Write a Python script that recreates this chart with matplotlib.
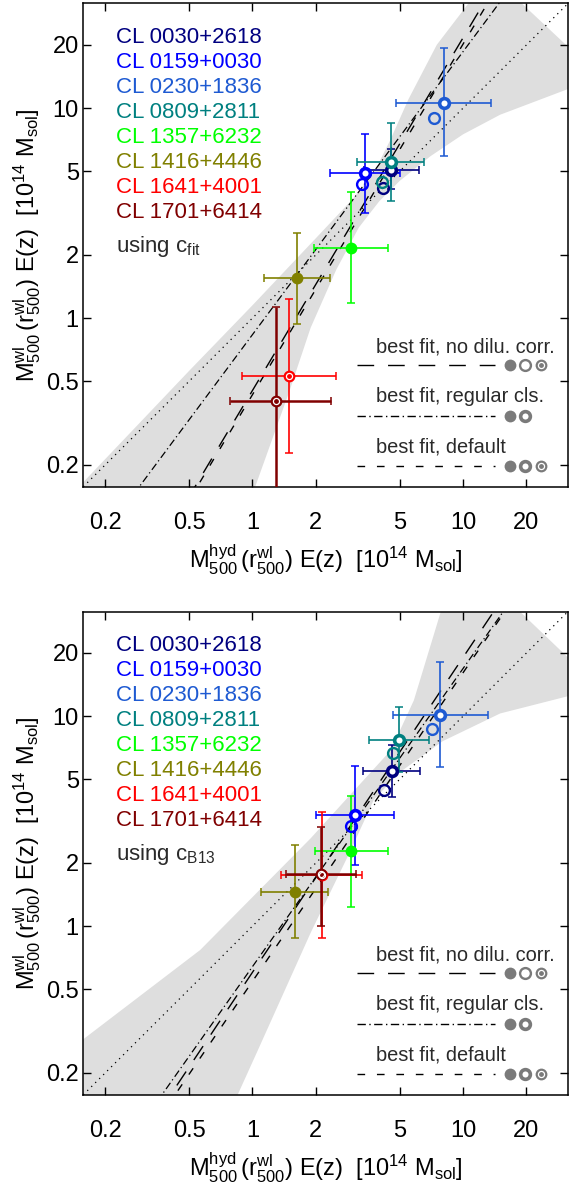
import numpy as np
import matplotlib
matplotlib.use('Agg')
from matplotlib import pyplot as plt

plt.rcParams['font.family'] = ['Liberation Sans', 'DejaVu Sans']
plt.rcParams['mathtext.fontset'] = 'custom'
plt.rcParams['mathtext.rm'] = 'Liberation Sans'
plt.rcParams['mathtext.it'] = 'Liberation Sans'
plt.rcParams['mathtext.bf'] = 'Liberation Sans'

# Clusters
CLUSTERS = ['CL 0030+2618', 'CL 0159+0030', 'CL 0230+1836', 'CL 0809+2811',
            'CL 1357+6232', 'CL 1416+4446', 'CL 1641+4001', 'CL 1701+6414']
COLORS = ['#000080', '#0000ff', '#1e5ad2', '#008080',
          '#00ff00', '#808000', '#ff0000', '#800000']
KIND = ['ring', 'ring', 'ring', 'ring', 'fill', 'fill', 'bull', 'bull']

# Top panel (c_fit): M_hyd, M_wl and error-bar bounds
TOP_X = [4.54, 3.42, 8.09, 4.54, 2.95, 1.62, 1.49, 1.30]
TOP_Y = [5.10, 4.89, 10.6, 5.55, 2.16, 1.55, 0.531, 0.403]
TOP_XLO = [3.40, 2.33, 4.80, 3.15, 1.96, 1.13, 0.893, 0.78]
TOP_XHI = [6.17, 5.03, 13.6, 6.50, 4.40, 2.33, 2.48, 2.35]
TOP_YLO = [4.10, 3.17, 5.93, 3.60, 1.18, 0.94, 0.228, 0.10]
TOP_YHI = [6.40, 7.50, 19.3, 8.50, 3.97, 2.55, 1.23, 1.13]
TOP_OPEN_X = [4.19, 3.30, 7.30, 4.14]
TOP_OPEN_Y = [4.15, 4.37, 8.94, 4.47]

# Bottom panel (c_B13)
BOT_X = [4.58, 3.07, 7.80, 4.96, 2.95, 1.59, 2.15, 2.12]
BOT_Y = [5.47, 3.40, 10.1, 7.69, 2.27, 1.46, 1.75, 1.77]
BOT_XLO = [3.35, 2.01, 4.67, 3.58, 1.98, 1.10, 1.36, 1.45]
BOT_XHI = [6.22, 4.70, 13.2, 6.86, 4.40, 2.29, 3.30, 3.10]
BOT_YLO = [4.10, 1.95, 5.72, 5.43, 1.24, 0.874, 0.88, 1.00]
BOT_YHI = [7.27, 5.80, 18.1, 11.1, 4.17, 2.43, 3.50, 2.96]
BOT_OPEN_X = [4.22, 2.95, 7.13, 4.64]
BOT_OPEN_Y = [4.44, 3.00, 8.66, 6.64]

# Best-fit lines: log10(M_wl) = a + b log10(M_hyd)
TOP_FIT_NODILU = (-0.345, 1.68)
TOP_FIT_REGULAR = (-0.079, 1.348)
TOP_FIT_DEFAULT = (-0.365, 1.67)
BOT_FIT_NODILU = (-0.220, 1.50)
BOT_FIT_REGULAR = (-0.193, 1.42)
BOT_FIT_DEFAULT = (-0.263, 1.47)

# Confidence band edges
TOP_BAND_UP_X = [0.10, 0.157, 0.5, 1.0, 2.0, 3.0, 3.8, 4.5, 5.5, 7.5, 10.6, 13.0]
TOP_BAND_UP_Y = [0.10, 0.165, 0.56, 1.15, 2.4, 3.7, 5.0, 7.0, 11.0, 20.0, 31.5, 45.0]
TOP_BAND_LO_X = [45.0, 32.0, 15.0, 10.0, 7.0, 5.0, 4.0, 3.2, 2.5, 1.89, 1.5, 1.03, 0.85]
TOP_BAND_LO_Y = [14.0, 12.4, 9.3, 7.5, 5.9, 4.5, 3.6, 2.7, 1.7, 0.9, 0.45, 0.157, 0.08]
BOT_BAND_UP_X = [0.10, 0.16, 0.565, 1.89, 4.54, 5.84, 7.85, 9.5]
BOT_BAND_UP_Y = [0.19, 0.293, 0.77, 2.62, 6.88, 11.9, 31.6, 60.0]
BOT_BAND_LO_X = [45.0, 32.0, 15.0, 8.0, 5.0, 3.77, 2.93, 1.89, 1.06, 0.85, 0.7]
BOT_BAND_LO_Y = [13.5, 12.5, 10.3, 7.6, 5.4, 4.0, 2.3, 0.93, 0.256, 0.157, 0.09]

TICKS = [0.2, 0.5, 1, 2, 5, 10, 20]
TICKLABELS = ['0.2', '0.5', '1', '2', '5', '10', '20']
LIM = (0.157, 31.5)

GRAY_BAND = '#dedede'
LEG_GRAY = '#7a7a7a'
TEXT_GRAY = '#2a2a2a'

LONG_DASH = (12, 10)
DASH_DOT = (6, 2.5, 1, 2.5)
SHORT_DASH = (5.5, 8.5)
DOTS = (1, 3.5)


def draw_marker(ax, x, y, color, kind, transform=None):
    kw = {} if transform is None else {'transform': transform}
    if kind == 'fill':
        ax.plot([x], [y], 'o', ms=8.5, mfc=color, mec=color, mew=0, zorder=6, clip_on=False, **kw)
    elif kind == 'ring':
        ax.plot([x], [y], 'o', ms=7.0, mfc='white', mec=color, mew=2.6, zorder=6, clip_on=False, **kw)
    elif kind == 'open':
        ax.plot([x], [y], 'o', ms=7.8, mfc='none', mec=color, mew=1.7, zorder=6, clip_on=False, **kw)
    elif kind == 'bull':
        ax.plot([x], [y], 'o', ms=8.5, mfc=color, mec=color, mew=0, zorder=6, clip_on=False, **kw)
        ax.plot([x], [y], 'o', ms=4.4, mfc='none', mec='white', mew=0.9, zorder=7, clip_on=False, **kw)


def draw_panel(ax, xs, ys, xlo, xhi, ylo, yhi, ox, oy, fits, band, cname):
    ax.set_xscale('log')
    ax.set_yscale('log')
    ax.set_xlim(*LIM)
    ax.set_ylim(*LIM)

    # confidence band
    px = list(band[0]) + list(band[2])
    py = list(band[1]) + list(band[3])
    ax.fill(px, py, color=GRAY_BAND, lw=0, zorder=0)

    xx = np.logspace(-1.2, 1.8, 200)
    ax.plot(xx, xx, color='black', lw=0.9, dashes=DOTS, zorder=2)
    a, b = fits[0]
    ax.plot(xx, 10 ** (a + b * np.log10(xx)), color='black', lw=1.0, dashes=LONG_DASH, zorder=2)
    a, b = fits[1]
    ax.plot(xx, 10 ** (a + b * np.log10(xx)), color='black', lw=0.9, dashes=DASH_DOT, zorder=2)
    a, b = fits[2]
    ax.plot(xx, 10 ** (a + b * np.log10(xx)), color='black', lw=1.0, dashes=SHORT_DASH, zorder=2)

    # open circles (no dilution correction)
    for i in range(len(ox)):
        draw_marker(ax, ox[i], oy[i], COLORS[i], 'open')

    # error bars and points
    for i in range(len(xs)):
        lw = 1.8 if i == 7 else 1.2
        ax.errorbar([xs[i]], [ys[i]],
                    xerr=[[xs[i] - xlo[i]], [xhi[i] - xs[i]]],
                    yerr=[[ys[i] - ylo[i]], [yhi[i] - ys[i]]],
                    fmt='none', ecolor=COLORS[i], elinewidth=lw,
                    capsize=3, capthick=1.1, zorder=4)
    for i in range(len(xs)):
        draw_marker(ax, xs[i], ys[i], COLORS[i], KIND[i])

    # axes styling
    ax.set_xticks(TICKS)
    ax.set_xticklabels(TICKLABELS)
    ax.set_yticks(TICKS)
    ax.set_yticklabels(TICKLABELS)
    ax.minorticks_off()
    ax.tick_params(which='both', direction='in', length=6, width=1.0,
                   top=True, right=True, labelsize=17, colors='black')
    ax.tick_params(axis='x', pad=18)
    ax.tick_params(axis='y', pad=3)
    for s in ax.spines.values():
        s.set_linewidth(1.1)

    ax.set_xlabel(r'$\mathregular{M^{hyd}_{500}\,(r^{wl}_{500})\ E(z)\ \ [10^{14}\ M_{sol}]}$',
                  fontsize=17, labelpad=6)
    ax.set_ylabel(r'$\mathregular{M^{wl}_{500}\,(r^{wl}_{500})\ E(z)\ \ [10^{14}\ M_{sol}]}$',
                  fontsize=17, labelpad=2)

    # cluster names
    for i, name in enumerate(CLUSTERS):
        ax.text(0.068, 0.9296 - 0.0518 * i, name, color=COLORS[i], fontsize=16,
                va='center', ha='left', transform=ax.transAxes)
    ax.text(0.068, 0.497, 'using c$_{\\mathregular{' + cname + '}}$', color=TEXT_GRAY,
            fontsize=16, va='center', ha='left', transform=ax.transAxes)

    # legend for fit lines
    T = ax.transAxes
    rows = [('best fit, no dilu. corr.', 0.290, 0.2526, LONG_DASH, ['fill', 'open', 'bull']),
            ('best fit, regular cls.', 0.1863, 0.147, DASH_DOT, ['fill', 'ring']),
            ('best fit, default', 0.0828, 0.0435, SHORT_DASH, ['fill', 'ring', 'bull'])]
    for label, ty, ly, dsh, kinds in rows:
        ax.text(0.604, ty, label, fontsize=14.4, color=TEXT_GRAY, va='center', ha='left', transform=T)
        ax.plot([0.565, 0.849], [ly, ly], color='black', lw=1.0, dashes=dsh, transform=T)
        for j, k in enumerate(kinds):
            draw_marker(ax, 0.880 + 0.032 * j, ly, LEG_GRAY, k, transform=T)


fig = plt.figure(figsize=(5.79, 11.86), dpi=100)
ax1 = fig.add_axes([0.1434, 0.5894, 0.8377, 0.4077])
ax2 = fig.add_axes([0.1434, 0.0767, 0.8377, 0.4077])

draw_panel(ax1, TOP_X, TOP_Y, TOP_XLO, TOP_XHI, TOP_YLO, TOP_YHI, TOP_OPEN_X, TOP_OPEN_Y,
           [TOP_FIT_NODILU, TOP_FIT_REGULAR, TOP_FIT_DEFAULT],
           [TOP_BAND_UP_X, TOP_BAND_UP_Y, TOP_BAND_LO_X, TOP_BAND_LO_Y], 'fit')
draw_panel(ax2, BOT_X, BOT_Y, BOT_XLO, BOT_XHI, BOT_YLO, BOT_YHI, BOT_OPEN_X, BOT_OPEN_Y,
           [BOT_FIT_NODILU, BOT_FIT_REGULAR, BOT_FIT_DEFAULT],
           [BOT_BAND_UP_X, BOT_BAND_UP_Y, BOT_BAND_LO_X, BOT_BAND_LO_Y], 'B13')

fig.savefig('out.png', dpi=100)
